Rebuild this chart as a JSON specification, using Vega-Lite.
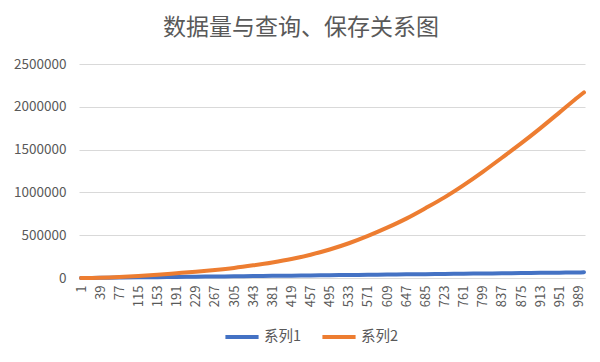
{
  "$schema": "https://vega.github.io/schema/vega-lite/v6.json",
  "autosize": {"type": "none"},
  "width": 506,
  "height": 214,
  "padding": {"left": 79, "top": 64, "right": 15, "bottom": 84},
  "background": "white",
  "title": {
    "text": "数据量与查询、保存关系图",
    "font": "Noto Sans CJK SC",
    "fontSize": 23,
    "fontWeight": "normal",
    "color": "#595959",
    "anchor": "middle",
    "dx": -31,
    "offset": 17
  },
  "config": {
    "view": {"stroke": null},
    "font": "Noto Sans CJK SC"
  },
  "data": {
    "values": [
      {"n": 1, "value": 0, "series": "系列1"},
      {"n": 39, "value": 2000, "series": "系列1"},
      {"n": 77, "value": 5000, "series": "系列1"},
      {"n": 115, "value": 7500, "series": "系列1"},
      {"n": 153, "value": 10000, "series": "系列1"},
      {"n": 191, "value": 12500, "series": "系列1"},
      {"n": 229, "value": 15000, "series": "系列1"},
      {"n": 267, "value": 17500, "series": "系列1"},
      {"n": 305, "value": 20000, "series": "系列1"},
      {"n": 343, "value": 22500, "series": "系列1"},
      {"n": 381, "value": 25000, "series": "系列1"},
      {"n": 419, "value": 27500, "series": "系列1"},
      {"n": 457, "value": 30000, "series": "系列1"},
      {"n": 495, "value": 32500, "series": "系列1"},
      {"n": 533, "value": 35000, "series": "系列1"},
      {"n": 571, "value": 37500, "series": "系列1"},
      {"n": 609, "value": 40000, "series": "系列1"},
      {"n": 647, "value": 42500, "series": "系列1"},
      {"n": 685, "value": 45000, "series": "系列1"},
      {"n": 723, "value": 47500, "series": "系列1"},
      {"n": 761, "value": 50000, "series": "系列1"},
      {"n": 799, "value": 52500, "series": "系列1"},
      {"n": 837, "value": 55000, "series": "系列1"},
      {"n": 875, "value": 57500, "series": "系列1"},
      {"n": 913, "value": 60000, "series": "系列1"},
      {"n": 951, "value": 62500, "series": "系列1"},
      {"n": 989, "value": 65000, "series": "系列1"},
      {"n": 1000, "value": 68000, "series": "系列1"},
      {"n": 1, "value": 0, "series": "系列2"},
      {"n": 39, "value": 3000, "series": "系列2"},
      {"n": 77, "value": 11000, "series": "系列2"},
      {"n": 115, "value": 23000, "series": "系列2"},
      {"n": 153, "value": 38000, "series": "系列2"},
      {"n": 191, "value": 56000, "series": "系列2"},
      {"n": 229, "value": 74000, "series": "系列2"},
      {"n": 267, "value": 94000, "series": "系列2"},
      {"n": 305, "value": 118000, "series": "系列2"},
      {"n": 343, "value": 148000, "series": "系列2"},
      {"n": 381, "value": 182000, "series": "系列2"},
      {"n": 419, "value": 222000, "series": "系列2"},
      {"n": 457, "value": 272000, "series": "系列2"},
      {"n": 495, "value": 333000, "series": "系列2"},
      {"n": 533, "value": 406000, "series": "系列2"},
      {"n": 571, "value": 492000, "series": "系列2"},
      {"n": 609, "value": 588000, "series": "系列2"},
      {"n": 647, "value": 694000, "series": "系列2"},
      {"n": 685, "value": 815000, "series": "系列2"},
      {"n": 723, "value": 942000, "series": "系列2"},
      {"n": 761, "value": 1085000, "series": "系列2"},
      {"n": 799, "value": 1240000, "series": "系列2"},
      {"n": 837, "value": 1405000, "series": "系列2"},
      {"n": 875, "value": 1572000, "series": "系列2"},
      {"n": 913, "value": 1748000, "series": "系列2"},
      {"n": 951, "value": 1932000, "series": "系列2"},
      {"n": 989, "value": 2118000, "series": "系列2"},
      {"n": 1000, "value": 2168000, "series": "系列2"}
    ]
  },
  "mark": {"type": "line", "strokeWidth": 4, "strokeCap": "round", "strokeJoin": "round", "interpolate": "monotone"},
  "encoding": {
    "x": {
      "field": "n",
      "type": "quantitative",
      "scale": {"domain": [-3, 1002], "nice": false, "zero": false},
      "axis": {
        "title": null,
        "values": [1, 39, 77, 115, 153, 191, 229, 267, 305, 343, 381, 419, 457, 495, 533, 571, 609, 647, 685, 723, 761, 799, 837, 875, 913, 951, 989],
        "labelAngle": -90,
        "labelFontSize": 13,
        "labelColor": "#595959",
        "labelFont": "Noto Sans CJK SC",
        "labelPadding": 7,
        "labelOverlap": false,
        "labelFlush": false,
        "ticks": false,
        "grid": false,
        "domainColor": "#d9d9d9",
        "domainWidth": 1
      }
    },
    "y": {
      "field": "value",
      "type": "quantitative",
      "scale": {"domain": [0, 2500000], "nice": false},
      "axis": {
        "title": null,
        "values": [0, 500000, 1000000, 1500000, 2000000, 2500000],
        "format": "d",
        "labelFontSize": 13.5,
        "labelColor": "#595959",
        "labelFont": "Noto Sans CJK SC",
        "labelPadding": 13,
        "ticks": false,
        "domain": false,
        "grid": true,
        "gridColor": "#d9d9d9",
        "gridWidth": 1
      }
    },
    "color": {
      "field": "series",
      "type": "nominal",
      "scale": {"domain": ["系列1", "系列2"], "range": ["#4472C4", "#ED7D31"]},
      "legend": {
        "title": null,
        "orient": "none",
        "direction": "horizontal",
        "legendX": 144,
        "legendY": 254,
        "symbolType": "stroke",
        "symbolSize": 1100,
        "symbolStrokeWidth": 4,
        "labelFontSize": 14.5,
        "labelColor": "#595959",
        "labelFont": "Noto Sans CJK SC",
        "labelOffset": 3,
        "columnPadding": 12
      }
    }
  }
}
